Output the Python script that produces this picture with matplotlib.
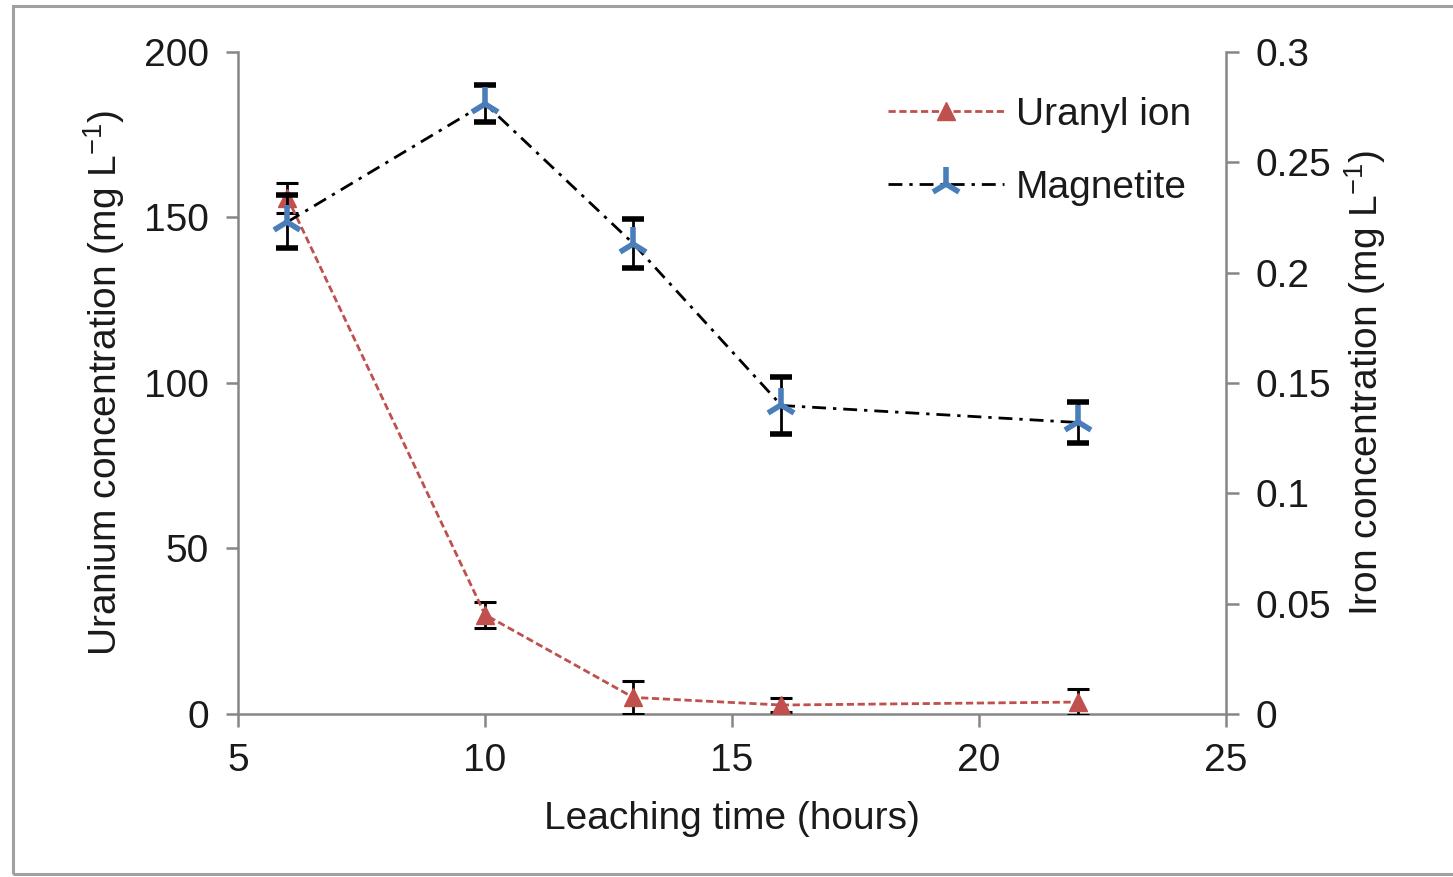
import numpy as np
import matplotlib.pyplot as plt
from matplotlib.lines import Line2D
from matplotlib.patches import Rectangle
from matplotlib.ticker import FormatStrFormatter, MultipleLocator

plt.rcParams['font.family'] = ['Liberation Sans', 'DejaVu Sans']
plt.rcParams['mathtext.default'] = 'regular'

# Leaching time (hours)
hours = [6, 10, 13, 16, 22]

# Uranyl ion, uranium concentration (mg/L)
uranium = [156, 30, 5, 2.7, 3.6]
uranium_err = [4.5, 3.9, 5, 2, 4]

# Magnetite, iron concentration (mg/L)
iron = [0.223, 0.2766, 0.2132, 0.1398, 0.1321]
iron_err = [0.012, 0.0084, 0.011, 0.0129, 0.0093]

red = '#c0504d'
blue = '#4a7ebb'
grey = '#868686'
txt = '#1a1a1a'

u_style = dict(color=red, ls=(0, (2.6, 1.3)), lw=2.0, marker='^', ms=13, mfc=red, mec=red)
m_style = dict(color='black', ls=(0, (5, 2.5, 1.2, 2.5)), lw=2.0, marker='2', ms=24,
               mec=blue, mew=4)

fig = plt.figure(figsize=(14.53, 8.77), dpi=100)
ax = fig.add_axes([0.1638, 0.1859, 0.68, 0.7548])
ax2 = ax.twinx()

# outer frame around the whole figure
fig.add_artist(Rectangle((13 / 1453, 3 / 877), 1.2, 868 / 877, transform=fig.transFigure,
                         fill=False, edgecolor='#a0a0a0', linewidth=2.2, clip_on=False))

ax.errorbar(hours, uranium, yerr=uranium_err, ecolor='black', elinewidth=2,
            capsize=8, capthick=2.2, zorder=3, **u_style)
ax2.errorbar(hours, iron, yerr=iron_err, ecolor='black', elinewidth=2,
             capsize=8, capthick=2.2, zorder=3, **m_style)

ax.set_xlim(5, 25)
ax.set_ylim(0, 200)
ax2.set_ylim(0, 0.3)
ax.xaxis.set_major_locator(MultipleLocator(5))
ax.yaxis.set_major_locator(MultipleLocator(50))
ax2.yaxis.set_major_locator(MultipleLocator(0.05))
ax2.yaxis.set_major_formatter(FormatStrFormatter('%g'))

for a in (ax, ax2):
    a.spines['top'].set_visible(False)
    for s in ('left', 'right', 'bottom'):
        a.spines[s].set_color(grey)
        a.spines[s].set_linewidth(1.8)
    a.tick_params(axis='both', direction='out', length=9, width=1.8, color=grey,
                  labelsize=28, labelcolor=txt, pad=12)
ax.spines['right'].set_visible(False)
ax2.spines['left'].set_visible(False)
ax2.spines['bottom'].set_visible(False)

ax.set_xlabel('Leaching time (hours)', fontsize=28, color=txt, labelpad=16)
ax.set_ylabel('Uranium concentration (mg L$^{-1}$)', fontsize=28, color=txt, labelpad=12)
ax2.set_ylabel('Iron concentration (mg L$^{-1}$)', fontsize=28, color=txt, labelpad=8)

handles = [Line2D([], [], **u_style), Line2D([], [], **m_style)]
ax2.legend(handles, ['Uranyl ion', 'Magnetite'], loc='upper right',
           bbox_to_anchor=(1.0, 0.985), frameon=False, fontsize=28,
           handlelength=3.0, handletextpad=0.3, labelspacing=0.95, labelcolor=txt)

fig.savefig('out.png', dpi=100)
